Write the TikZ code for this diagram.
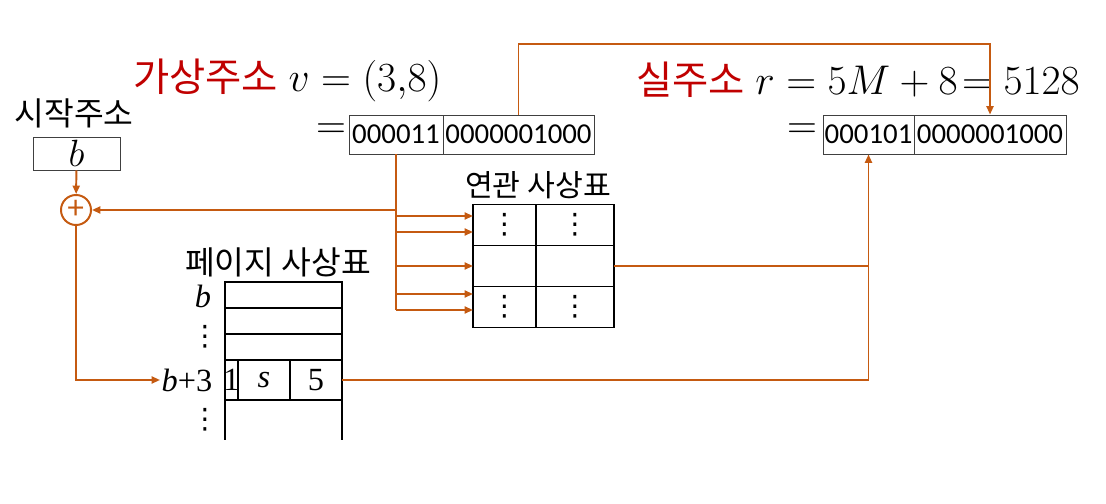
\RequirePackage{fix-cm}
\documentclass[tikz,border=0pt]{standalone}
\usepackage{fontspec}
\setmainfont{Liberation Serif}
\newfontfamily\kr{Noto Sans CJK KR}
\newfontfamily\digitfont{Carlito}
\newfontfamily\symfont{DejaVu Sans}
\usetikzlibrary{arrows.meta}

\definecolor{linkc}{HTML}{C55A11}
\definecolor{titlec}{HTML}{C00000}

\begin{document}
\begin{tikzpicture}[x=0.025cm,y=-0.025cm,>={Triangle[length=6pt,width=5pt]}]
\tikzstyle{every node}=[inner sep=0pt]
\tikzstyle{krlabel}=[font=\kr\fontsize{23}{23}\selectfont]
\tikzstyle{mathtxt}=[font=\fontsize{29.5}{29.5}\selectfont]
\tikzstyle{bits}=[draw=black!75,line width=0.6pt,minimum height=0.975cm,font=\digitfont\fontsize{20.5}{20.5}\selectfont]
\tikzstyle{conn}=[draw=linkc,line width=1.4pt]
\tikzstyle{assoccell}=[draw,line width=1.1pt,outer sep=0pt,minimum height=1.025cm,font=\symfont\fontsize{20}{20}\selectfont]
\tikzstyle{pagecell}=[draw,line width=1.4pt,outer sep=0pt,font=\fontsize{23}{23}\selectfont]
\tikzstyle{pagelbl}=[font=\fontsize{23}{23}\selectfont]
\tikzstyle{dotlbl}=[font=\symfont\fontsize{20}{20}\selectfont]

\useasboundingbox (0,0) rectangle (1106,504);

% addresses
\node[anchor=west,mathtxt] (vaddr) at (133,80) {{\kr\fontsize{28}{28}\selectfont\color{titlec}가상주소} $v = (3{,}8)$};
\node[mathtxt] (eq1) at (331,131) {$=$};
\node[bits,minimum width=2.35cm] (page) at (396,134.5) {000011};
\node[bits,minimum width=3.775cm] (offs) at (518.5,134.5) {0000001000};

\node[anchor=west,mathtxt] (raddr) at (636,80) {{\kr\fontsize{28}{28}\selectfont\color{titlec}실주소} $r = 5M + 8 \mathrel{\mkern-3mu=} 5128$};
\node[mathtxt] (eq2) at (802,131) {$=$};
\node[bits,minimum width=2.275cm] (frame) at (868.5,134.5) {000101};
\node[bits,minimum width=3.8cm] (roffs) at (990,134.5) {0000001000};

% start address and adder
\node[krlabel] (startlbl) at (74,113) {시작주소};
\node[draw=black!75,line width=0.6pt,minimum width=2.175cm,minimum height=0.825cm,font=\fontsize{27}{27}\selectfont] (base) at (76.5,153.5) {$b$};
\node[circle,draw=linkc,line width=1.4pt,minimum size=0.75cm,text=linkc,font=\kr\fontsize{22}{22}\selectfont] (adder) at (76,210) {+};

% associative table
\node[krlabel,font=\kr\fontsize{21.5}{21.5}\selectfont] (assoclbl) at (538,185) {연관 사상표};
\node[assoccell,minimum width=1.575cm] (a11) at (504.5,225) {⋮};
\node[assoccell,minimum width=1.95cm] (a12) at (575,225) {⋮};
\node[assoccell,minimum width=1.575cm] (a21) at (504.5,266) {};
\node[assoccell,minimum width=1.95cm] (a22) at (575,266) {};
\node[assoccell,minimum width=1.575cm] (a31) at (504.5,307) {⋮};
\node[assoccell,minimum width=1.95cm] (a32) at (575,307) {⋮};

% page table
\node[krlabel] (pagelbl) at (278,262) {페이지 사상표};
\node[pagecell,minimum width=2.925cm,minimum height=0.65cm] (p1) at (283.5,295) {};
\node[pagecell,minimum width=2.925cm,minimum height=0.65cm] (p2) at (283.5,321) {};
\node[pagecell,minimum width=2.925cm,minimum height=0.65cm] (p3) at (283.5,347) {};
\node[pagecell,minimum width=0.325cm,minimum height=1cm] (c1) at (231.5,380) {\makebox[0pt]{1}};
\node[pagecell,minimum width=1.3cm,minimum height=1cm] (c2) at (264,380) {\textit{s}};
\node[pagecell,minimum width=1.3cm,minimum height=1cm] (c3) at (316,380) {5};
\draw[line width=1.4pt] (c1.south west) -- ++(0,40);
\draw[line width=1.4pt] (c3.south east) -- ++(0,40);

\node[pagelbl] (lblb) at (203,296) {\textit{b}};
\node[dotlbl] (lbld1) at (205,337) {⋮};
\node[pagelbl,inner sep=1pt] (lblb3) at (187,380) {\textit{b}+3};
\node[dotlbl] (lbld2) at (205,420) {⋮};

% connectors
\coordinate (topbend) at (750,44);
\draw[conn,->] (offs.north) |- (topbend) -| (roffs.north);
\draw[conn] (page.south) -- (page.south |- 0,310);
\draw[conn,->] (page.south |- adder) -- (adder);
\foreach \y in {216,232,266,294,310}
  \draw[conn,->] (page.south |- 0,\y) -- (a11.west |- 0,\y);
\draw[conn,->] (base) -- (adder);
\draw[conn,->] (adder) |- (lblb3);
\draw[conn] (a22.east) -- (a22.east -| frame.south);
\draw[conn,->] (c3.east) -| (frame.south);
\end{tikzpicture}
\end{document}
